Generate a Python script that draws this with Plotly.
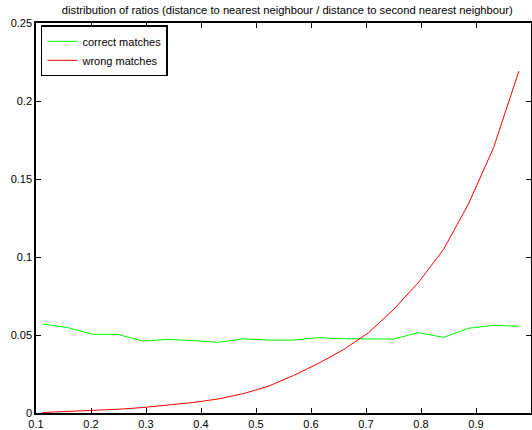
import plotly.graph_objects as go

# bin centres of the ratio histogram
ratio_bins = [0.112, 0.158, 0.203, 0.249, 0.294, 0.340, 0.385, 0.431, 0.477, 0.522,
              0.568, 0.613, 0.659, 0.704, 0.750, 0.795, 0.841, 0.886, 0.932, 0.978]

correct_matches = [0.0571, 0.0547, 0.0504, 0.0504, 0.0461, 0.0472, 0.0465, 0.0453, 0.0476, 0.0467,
                   0.0467, 0.0483, 0.0476, 0.0474, 0.0474, 0.0515, 0.0485, 0.0543, 0.0562, 0.0556]

wrong_matches = [0.0003, 0.0009, 0.0015, 0.0024, 0.0035, 0.0049, 0.0067, 0.0090, 0.0124, 0.0171,
                 0.0240, 0.0317, 0.0406, 0.0513, 0.0663, 0.0835, 0.1049, 0.1338, 0.1701, 0.2192]

x_ticks = [0.1, 0.2, 0.3, 0.4, 0.5, 0.6, 0.7, 0.8, 0.9, 1.0]
x_tick_labels = ["0.1", "0.2", "0.3", "0.4", "0.5", "0.6", "0.7", "0.8", "0.9", "1"]
y_ticks = [0, 0.05, 0.1, 0.15, 0.2, 0.25]
y_tick_labels = ["0", "0.05", "0.1", "0.15", "0.2", "0.25"]

title_text = "distribution of ratios (distance to nearest neighbour / distance to second nearest neighbour)"

FONT = "Liberation Sans, Arial, Helvetica, sans-serif"

fig = go.Figure()
fig.add_trace(go.Scatter(x=ratio_bins, y=correct_matches, mode="lines",
                         name="correct matches", line=dict(color="#00ff00", width=1)))
fig.add_trace(go.Scatter(x=ratio_bins, y=wrong_matches, mode="lines",
                         name="wrong matches", line=dict(color="#ff0000", width=1)))

axis_common = dict(
    showgrid=False, zeroline=False, showline=True, linecolor="black", linewidth=1.5,
    mirror="ticks", ticks="inside", ticklen=5, tickcolor="black", tickwidth=1,
    automargin=False,
    tickfont=dict(family=FONT, size=11, color="black"),
)

fig.update_layout(
    template="none",
    width=532, height=430,
    margin=dict(l=36, r=1, t=23, b=17, autoexpand=False),
    paper_bgcolor="white", plot_bgcolor="white",
    font=dict(family=FONT, size=11, color="black"),
    title=dict(text=title_text, x=0.54, xanchor="center", y=1 - 10 / 430, yanchor="middle",
               xref="container", yref="container",
               font=dict(family=FONT, size=11.2, color="black")),
    xaxis=dict(range=[0.1, 1.0], tickvals=x_ticks, ticktext=x_tick_labels, **axis_common),
    yaxis=dict(range=[0, 0.25], tickvals=y_ticks, ticktext=y_tick_labels, **axis_common),
    legend=dict(x=0.01, y=0.994, xanchor="left", yanchor="top",
                bgcolor="white", bordercolor="black", borderwidth=1.5,
                font=dict(family=FONT, size=11, color="black"),
                tracegroupgap=0, itemwidth=30),
    showlegend=True,
)

fig.write_html("out.html",
               config=dict(displayModeBar=False),
               post_script="document.body.style.margin='0';document.body.style.overflow='hidden';")
